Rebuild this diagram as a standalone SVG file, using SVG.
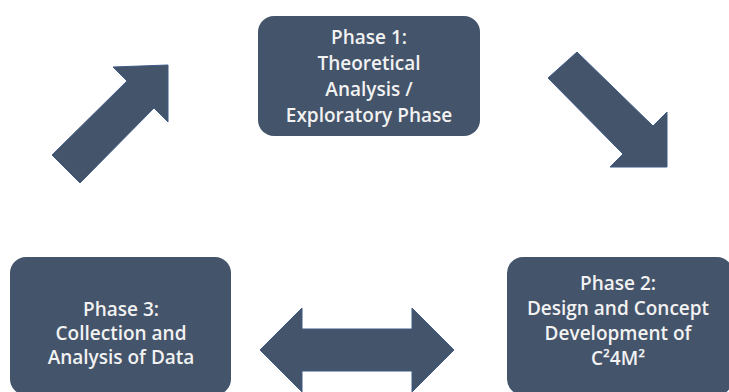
<svg xmlns="http://www.w3.org/2000/svg" width="729" height="392" viewBox="0 0 729 392">
<style>
.box{fill:#44546a;}
.arr{fill:#44546a;stroke:#3f5a86;stroke-width:1;}
.t{font-family:"Open Sans","Noto Sans","Liberation Sans",sans-serif;font-weight:600;font-size:19px;fill:#f2f2f2;text-anchor:middle;}
</style>
<rect width="729" height="392" fill="#ffffff"/>
<g id="connectors">
<polygon class="arr" points="168,65 168,122 154,108 80,183 52,155 127,81 113,67"/>
<polygon class="arr" points="577,52 653,126 667,112 667,167 610,167 623,154 548,78"/>
<polygon class="arr" points="260,350 302,308 302,329 412,329 412,308 454,350 412,392 412,371 302,371 302,392"/>
</g>
<g id="phase1">
<rect class="box" x="258" y="16" width="222" height="120" rx="16"/>
<text class="t" x="369" y="44">Phase 1:</text>
<text class="t" x="369" y="70">Theoretical</text>
<text class="t" x="369" y="96">Analysis /</text>
<text class="t" x="369" y="122">Exploratory Phase</text>
</g>
<g id="phase2">
<rect class="box" x="507" y="257" width="226" height="138" rx="16"/>
<text class="t" x="618" y="290">Phase 2:</text>
<text class="t" x="618" y="315">Design and Concept</text>
<text class="t" x="618" y="340">Development of</text>
<text class="t" x="618" y="365">C²4M²</text>
</g>
<g id="phase3">
<rect class="box" x="10" y="257" width="221" height="138" rx="16"/>
<text class="t" x="121" y="316">Phase 3:</text>
<text class="t" x="121" y="340">Collection and</text>
<text class="t" x="121" y="364">Analysis of Data</text>
</g>
</svg>
